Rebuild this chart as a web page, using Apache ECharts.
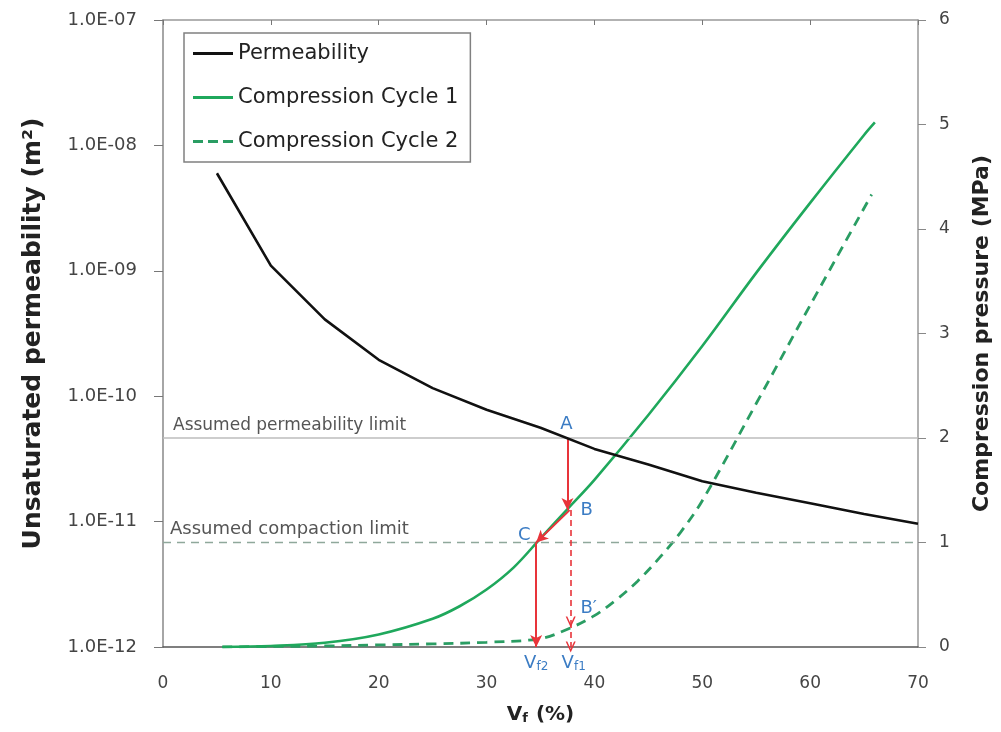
<!DOCTYPE html>
<html>
<head>
<meta charset="utf-8">
<script src="https://cdn.jsdelivr.net/npm/echarts@6/dist/echarts.min.js"></script>
<style>
  html, body { margin: 0; padding: 0; background: #fff; }
  #chart { width: 1001px; height: 732px; }
</style>
</head>
<body>
<div id="chart"></div>
<script>
// permeability (left, log axis)
var vfPerm = [5, 10, 15, 20, 25, 30, 35, 40, 45, 50, 55, 60, 65, 70]
var permeability = [6.0e-9, 1.1e-9, 4.1e-10, 1.95e-10, 1.16e-10, 7.8e-11, 5.6e-11,
  3.8e-11, 2.85e-11, 2.1e-11, 1.7e-11, 1.4e-11, 1.15e-11, 9.6e-12]

// compression pressure (right axis, MPa)
var vfCycle1 = [5.5, 10, 15, 20, 25, 27.5, 30, 32.5, 35, 37.5, 40, 45, 50, 55, 60, 65, 66]
var pressureCycle1 = [0, 0.01, 0.04, 0.12, 0.27, 0.39, 0.55, 0.76, 1.04, 1.32, 1.60, 2.22, 2.88, 3.58, 4.25, 4.90, 5.02]
var vfCycle2 = [5.5, 10, 15, 20, 25, 30, 35, 37.5, 40, 42, 44, 46, 48, 50, 55, 60, 65.7]
var pressureCycle2 = [0, 0.005, 0.01, 0.02, 0.03, 0.045, 0.08, 0.17, 0.30, 0.45, 0.63, 0.85, 1.10, 1.40, 2.33, 3.27, 4.33]

var xTicks = [0, 10, 20, 30, 40, 50, 60, 70]
var leftTickLabels = ['1.0E-12', '1.0E-11', '1.0E-10', '1.0E-09', '1.0E-08', '1.0E-07']
var rightTicks = [0, 1, 2, 3, 4, 5, 6]

// limits and construction points (Vf %, MPa)
var permLimit = 2
var compactionLimit = 1
var pointA = [37.5, 2]
var pointB = [37.7, 1.31]
var pointC = [34.6, 1.0]
var pointB2 = [37.8, 0.24]
var pointVf2 = [34.6, 0]
var pointVf1 = [37.8, 0]

var font = '"DejaVu Sans", Verdana, sans-serif'
var red = '#e8343a'
var blue = '#3b7cc4'
var green = '#1fa85c'

function pairs(xs, ys) {
  return xs.map(function (x, i) { return [x, ys[i]] })
}

var openV = 'path://M0,10 L5,0 L10,10 L8.4,10 L5,3.2 L1.6,10 Z'
var solidIcon = 'path://M0,0 H40 V3 H0 Z'
var dashIcon = 'path://M0,0 H10 V3 H0 Z M15,0 H25 V3 H15 Z M30,0 H40 V3 H30 Z'

var myChart = echarts.init(document.getElementById('chart'))
var option = {
  animation: false,
  textStyle: { fontFamily: font },
  grid: { left: 163, right: 79, top: 20, bottom: 85 },
  legend: {
    orient: 'vertical',
    left: 184,
    top: 33,
    padding: [10, 12, 10, 9],
    borderColor: '#808080',
    borderWidth: 1.5,
    itemWidth: 40,
    itemHeight: 3,
    itemGap: 23,
    textStyle: { fontSize: 21, color: '#222', fontFamily: font, lineHeight: 21 },
    data: [
      { name: 'Permeability', icon: solidIcon },
      { name: 'Compression Cycle 1', icon: solidIcon },
      { name: 'Compression Cycle 2', icon: dashIcon }
    ]
  },
  xAxis: [{
    type: 'value',
    min: 0, max: 70, interval: 10,
    name: '{v|V}{s|f}{v| (%)}',
    nameLocation: 'middle',
    nameGap: 57,
    nameTextStyle: {
      rich: {
        v: { fontSize: 20, fontWeight: 'bold', color: '#222', fontFamily: font },
        s: { fontSize: 13, fontWeight: 'bold', color: '#222', fontFamily: font, verticalAlign: 'bottom', padding: [8, 1, 0, 0] }
      }
    },
    axisLine: { onZero: false, lineStyle: { color: '#555', width: 1.5 } },
    axisTick: { show: false },
    axisLabel: {
      margin: 28, fontSize: 17, color: '#444',
      formatter: function (v) { return xTicks.indexOf(v) >= 0 ? String(v) : '' }
    },
    splitLine: { show: false }
  }, {
    type: 'value',
    position: 'top',
    min: 0, max: 70, interval: 10,
    axisLine: { onZero: false, lineStyle: { color: '#999', width: 1.5 } },
    axisTick: { inside: true, length: 5, lineStyle: { color: '#777' } },
    axisLabel: { show: false },
    splitLine: { show: false }
  }],
  yAxis: [{
    type: 'log',
    logBase: 10,
    min: 1e-12, max: 1e-7,
    interval: 1,
    name: 'Unsaturated permeability (m\u00B2)',
    nameLocation: 'middle',
    nameGap: 117,
    nameRotate: 90,
    nameTextStyle: { fontSize: 25, fontWeight: 'bold', color: '#222' },
    axisLine: { show: true, onZero: false, lineStyle: { color: '#888', width: 1.5 } },
    axisTick: { show: true, length: 9, lineStyle: { color: '#777' } },
    axisLabel: {
      margin: 26, fontSize: 18, color: '#444',
      formatter: function (v) {
        var e = Math.round(Math.log10(v))
        return leftTickLabels[e + 12] || ''
      }
    },
    splitLine: { show: false }
  }, {
    type: 'value',
    position: 'right',
    min: 0, max: 6, interval: 1,
    name: 'Compression pressure (MPa)',
    nameLocation: 'middle',
    nameGap: 53,
    nameRotate: 90,
    nameTextStyle: { fontSize: 22, fontWeight: 'bold', color: '#222' },
    axisLine: { show: true, onZero: false, lineStyle: { color: '#999', width: 1.5 } },
    axisTick: { show: true, length: 8, lineStyle: { color: '#888' } },
    axisLabel: {
      margin: 21, fontSize: 17, color: '#444',
      formatter: function (v) { return rightTicks.indexOf(v) >= 0 ? String(v) : '' }
    },
    splitLine: { show: false }
  }],
  series: [{
    name: 'Permeability',
    type: 'line',
    yAxisIndex: 0,
    data: pairs(vfPerm, permeability),
    symbol: 'none',
    color: '#111',
    lineStyle: { color: '#111', width: 2.6 },
    z: 5
  }, {
    name: 'Compression Cycle 1',
    type: 'line',
    yAxisIndex: 1,
    data: pairs(vfCycle1, pressureCycle1),
    symbol: 'none',
    smooth: 0.35,
    color: green,
    lineStyle: { color: green, width: 2.6 },
    z: 4,
    markLine: {
      silent: true,
      symbol: ['none', 'none'],
      label: { show: false },
      data: [
        {
          yAxis: permLimit,
          lineStyle: { color: '#bdbdbd', width: 1.5, type: 'solid' },
          label: {
            show: true, position: 'insideStartTop', formatter: 'Assumed permeability limit',
            fontSize: 17, color: '#555', distance: [10, 4], fontFamily: font
          }
        },
        {
          yAxis: compactionLimit,
          lineStyle: { color: '#8fa89b', width: 1.3, type: [8, 6] },
          label: {
            show: true, position: 'insideStartTop', formatter: 'Assumed compaction limit',
            fontSize: 18, color: '#555', distance: [7, 4], fontFamily: font
          }
        },
        [
          { coord: pointA, symbol: 'none', lineStyle: { color: red, width: 2, type: 'solid' } },
          { coord: [pointA[0], pointB[1]], symbol: 'arrow', symbolSize: [9, 12] }
        ],
        [
          { coord: pointB, symbol: 'none', lineStyle: { color: red, width: 2, type: 'solid' } },
          { coord: pointC, symbol: 'arrow', symbolSize: [9, 12] }
        ],
        [
          { coord: pointC, symbol: 'none', lineStyle: { color: red, width: 2, type: 'solid' } },
          { coord: pointVf2, symbol: 'arrow', symbolSize: [9, 12] }
        ],
        [
          { coord: [pointVf1[0], pointB[1]], symbol: 'none', lineStyle: { color: red, width: 1.6, type: [6, 4] } },
          { coord: pointB2, symbol: openV, symbolSize: [10, 11] }
        ],
        [
          { coord: pointB2, symbol: 'none', lineStyle: { color: red, width: 1.6, type: [6, 4] } },
          { coord: pointVf1, symbol: openV, symbolSize: [10, 11] }
        ]
      ]
    },
    markPoint: {
      silent: true,
      symbol: 'circle',
      symbolSize: 0,
      label: { show: true, color: blue, fontSize: 18, fontFamily: font },
      data: [
        { coord: pointA, label: { formatter: 'A', offset: [-1, -14] } },
        { coord: pointB, label: { formatter: 'B', offset: [17, 0] } },
        { coord: pointC, label: { formatter: 'C', offset: [-12, -7] } },
        { coord: pointB2, label: { formatter: 'B\u2032', offset: [18, -14] } },
        {
          coord: pointVf2,
          label: {
            offset: [0, 16],
            formatter: '{v|V}{s|f2}',
            rich: {
              v: { color: blue, fontSize: 18, fontFamily: font },
              s: { color: blue, fontSize: 12, fontFamily: font, verticalAlign: 'bottom', padding: [8, 0, 0, 0] }
            }
          }
        },
        {
          coord: pointVf1,
          label: {
            offset: [3, 16],
            formatter: '{v|V}{s|f1}',
            rich: {
              v: { color: blue, fontSize: 18, fontFamily: font },
              s: { color: blue, fontSize: 12, fontFamily: font, verticalAlign: 'bottom', padding: [8, 0, 0, 0] }
            }
          }
        }
      ]
    }
  }, {
    name: 'Compression Cycle 2',
    type: 'line',
    yAxisIndex: 1,
    data: pairs(vfCycle2, pressureCycle2),
    symbol: 'none',
    smooth: 0.35,
    color: '#2a9d63',
    lineStyle: { color: '#2a9d63', width: 2.8, type: [10, 7] },
    z: 3
  }]
}
myChart.setOption(option)
</script>
</body>
</html>
